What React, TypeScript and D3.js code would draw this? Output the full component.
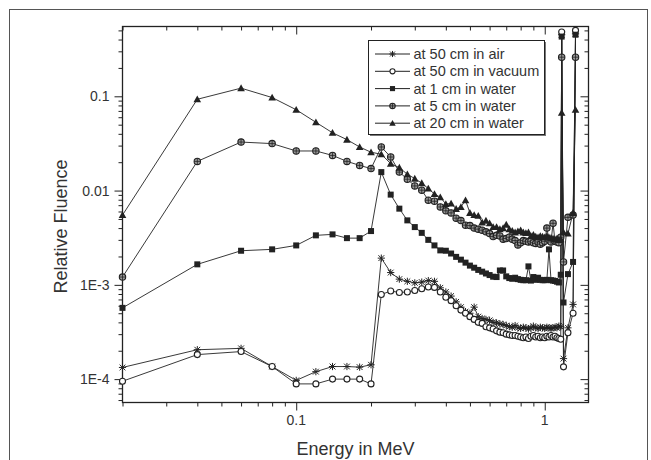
import * as d3 from 'd3';
import { useEffect, useRef } from 'react';

// photon energies (MeV) at which the fluence was scored
const energies = [
  0.02, 0.04, 0.06, 0.08, 0.10, 0.12, 0.14, 0.16, 0.18, 0.20,
  0.22, 0.24, 0.26, 0.28, 0.30, 0.32, 0.34, 0.36, 0.38, 0.40,
  0.42, 0.44, 0.46, 0.48, 0.50, 0.52, 0.54, 0.56, 0.58, 0.60,
  0.62, 0.64, 0.66, 0.68, 0.70, 0.72, 0.74, 0.76, 0.78, 0.80,
  0.82, 0.84, 0.86, 0.88, 0.90, 0.92, 0.94, 0.96, 0.98, 1.00,
  1.02, 1.04, 1.06, 1.08, 1.10, 1.12, 1.14, 1.16,
  1.17, 1.19, 1.24, 1.30, 1.33
];

const air50 = [
  1.33e-4, 2.05e-4, 2.12e-4, 1.36e-4, 0.97e-4, 1.2e-4, 1.36e-4, 1.36e-4, 1.34e-4, 1.42e-4,
  1.92e-3, 1.35e-3, 1.15e-3, 1.09e-3, 1.05e-3, 1.07e-3, 1.11e-3, 1.09e-3, 9.3e-4, 8.4e-4,
  7.6e-4, 6.6e-4, 5.8e-4, 5.2e-4, 5.0e-4, 5.8e-4, 4.6e-4, 4.4e-4, 4.3e-4, 4.2e-4,
  4.0e-4, 3.95e-4, 3.85e-4, 3.8e-4, 3.7e-4, 3.6e-4, 3.55e-4, 3.7e-4, 3.5e-4, 3.45e-4,
  3.55e-4, 3.5e-4, 3.4e-4, 3.5e-4, 3.65e-4, 3.5e-4, 3.45e-4, 3.55e-4, 3.5e-4, 3.45e-4,
  3.55e-4, 3.5e-4, 3.45e-4, 3.5e-4, 3.55e-4, 3.5e-4, 3.65e-4, 3.6e-4,
  0.45, 1.65e-4, 3.5e-4, 6.2e-4, 0.46
];

const vacuum50 = [
  0.95e-4, 1.82e-4, 1.96e-4, 1.36e-4, 0.89e-4, 0.89e-4, 1.0e-4, 1.0e-4, 1.0e-4, 0.89e-4,
  7.9e-4, 8.6e-4, 8.3e-4, 8.4e-4, 8.7e-4, 9.1e-4, 9.5e-4, 9.4e-4, 8.4e-4, 7.4e-4,
  6.8e-4, 6.0e-4, 5.4e-4, 5.0e-4, 4.6e-4, 4.3e-4, 4.0e-4, 3.9e-4, 3.6e-4, 3.5e-4,
  3.4e-4, 3.25e-4, 3.15e-4, 3.1e-4, 3.0e-4, 2.95e-4, 2.9e-4, 2.9e-4, 2.85e-4, 2.8e-4,
  2.75e-4, 2.8e-4, 2.7e-4, 2.85e-4, 2.9e-4, 2.8e-4, 2.85e-4, 2.75e-4, 2.8e-4, 2.75e-4,
  2.85e-4, 2.8e-4, 2.9e-4, 2.8e-4, 2.85e-4, 2.75e-4, 2.7e-4, 2.65e-4,
  0.48, 1.35e-4, 3.1e-4, 5.0e-4, 0.5
];

const water1 = [
  5.7e-4, 1.65e-3, 2.3e-3, 2.38e-3, 2.62e-3, 3.35e-3, 3.43e-3, 3.13e-3, 3.13e-3, 3.72e-3,
  0.0157, 9.06e-3, 6.43e-3, 4.83e-3, 4.1e-3, 3.56e-3, 3.0e-3, 2.62e-3, 2.32e-3, 2.3e-3,
  2.15e-3, 1.98e-3, 1.85e-3, 1.72e-3, 1.6e-3, 1.52e-3, 1.44e-3, 1.38e-3, 1.32e-3, 1.27e-3,
  1.22e-3, 1.21e-3, 1.42e-3, 1.42e-3, 1.23e-3, 1.18e-3, 1.16e-3, 1.19e-3, 1.15e-3, 1.13e-3,
  1.12e-3, 1.12e-3, 1.57e-3, 1.11e-3, 1.21e-3, 1.13e-3, 1.19e-3, 1.13e-3, 1.12e-3, 1.12e-3,
  1.13e-3, 2.38e-3, 1.12e-3, 1.11e-3, 1.1e-3, 1.08e-3, 1.06e-3, 1.28e-3,
  0.43, 6.5e-4, 1.3e-3, 1.75e-3, 0.45
];

const water5 = [
  1.21e-3, 0.0204, 0.0327, 0.0315, 0.0263, 0.0263, 0.0236, 0.0204, 0.0185, 0.0171,
  0.029, 0.0227, 0.0157, 0.0132, 0.0112, 0.0101, 7.9e-3, 7.7e-3, 6.7e-3, 6.1e-3,
  5.8e-3, 5.1e-3, 4.8e-3, 4.3e-3, 4.25e-3, 4.0e-3, 3.9e-3, 3.8e-3, 3.65e-3, 3.5e-3,
  3.25e-3, 3.35e-3, 3.3e-3, 3.05e-3, 3.1e-3, 3.2e-3, 3.05e-3, 2.95e-3, 2.65e-3, 2.8e-3,
  2.95e-3, 2.9e-3, 2.85e-3, 2.9e-3, 2.8e-3, 2.75e-3, 2.85e-3, 2.7e-3, 2.8e-3, 2.9e-3,
  4.0e-3, 3.0e-3, 2.85e-3, 4.5e-3, 2.9e-3, 2.85e-3, 2.8e-3, 3.2e-3,
  0.26, 1.75e-3, 5.2e-3, 5.5e-3, 0.26
];

const water20 = [
  5.5e-3, 0.093, 0.122, 0.097, 0.072, 0.053, 0.041, 0.0347, 0.029, 0.0255,
  0.0243, 0.0193, 0.0175, 0.0149, 0.0134, 0.012, 0.0105, 9.2e-3, 8.5e-3, 7.2e-3,
  7.3e-3, 6.4e-3, 6.7e-3, 7.9e-3, 5.8e-3, 5.5e-3, 5.4e-3, 4.6e-3, 4.8e-3, 4.5e-3,
  4.1e-3, 4.1e-3, 3.9e-3, 4.0e-3, 4.35e-3, 3.9e-3, 3.75e-3, 3.6e-3, 3.7e-3, 3.8e-3,
  3.6e-3, 3.55e-3, 3.6e-3, 3.3e-3, 3.4e-3, 3.25e-3, 3.2e-3, 3.3e-3, 3.25e-3, 3.2e-3,
  3.3e-3, 3.2e-3, 3.15e-3, 3.1e-3, 3.05e-3, 3.1e-3, 3.0e-3, 3.05e-3,
  0.067, 3.6e-3, 3.5e-3, 5.8e-3, 0.072
];

const seriesNames = [
  'at 50 cm in air',
  'at 50 cm in vacuum',
  'at 1 cm in water',
  'at 5 cm in water',
  'at 20 cm in water'
];
const seriesMarkers = ['star', 'circle', 'square', 'crossCircle', 'triangle'];

const xMajorTicks = [0.1, 1];
const xTickLabels = ['0.1', '1'];
const xMinorTicks = [0.02, 0.03, 0.04, 0.05, 0.06, 0.07, 0.08, 0.09, 0.2, 0.3, 0.4, 0.5, 0.6, 0.7, 0.8, 0.9];
const yMajorTicks = [1e-4, 1e-3, 0.01, 0.1];
const yTickLabels = ['1E-4', '1E-3', '0.01', '0.1'];
const yMinorTicks = [
  6e-5, 7e-5, 8e-5, 9e-5,
  2e-4, 3e-4, 4e-4, 5e-4, 6e-4, 7e-4, 8e-4, 9e-4,
  2e-3, 3e-3, 4e-3, 5e-3, 6e-3, 7e-3, 8e-3, 9e-3,
  0.02, 0.03, 0.04, 0.05, 0.06, 0.07, 0.08, 0.09,
  0.2, 0.3, 0.4, 0.5
];

export default function App() {
  const ref = useRef<SVGSVGElement>(null);

  useEffect(() => {
    const width = 651;
    const height = 460;
    const plot = { left: 122.5, right: 588.5, top: 26.5, bottom: 402.5 };
    const ink = '#222';
    const font = "'Liberation Sans', Arial, sans-serif";

    const svg = d3.select(ref.current);
    svg.selectAll('*').remove();

    // page frame
    svg.append('rect')
      .attr('x', 9.5).attr('y', 9.5)
      .attr('width', 638).attr('height', 480)
      .attr('fill', 'none').attr('stroke', '#555').attr('stroke-width', 1);

    const x = d3.scaleLog().domain([0.02, 1.5]).range([plot.left, plot.right]);
    const y = d3.scaleLog().domain([5.65e-5, 0.55]).range([plot.bottom, plot.top]);

    const tickAxis = (axis: any, pos: string, values: number[], size: number) => {
      const g = svg.append('g').attr('transform', pos).call(axis.tickValues(values).tickSize(size).tickFormat(() => ''));
      g.select('.domain').remove();
      g.selectAll('line').attr('stroke', ink).attr('stroke-width', 1);
      return g;
    };

    // outward ticks bottom/left, inward on top/right
    tickAxis(d3.axisBottom(x), `translate(0,${plot.bottom})`, xMinorTicks, 4);
    tickAxis(d3.axisBottom(x), `translate(0,${plot.bottom})`, xMajorTicks, 8);
    tickAxis(d3.axisTop(x), `translate(0,${plot.top})`, xMinorTicks, -4);
    tickAxis(d3.axisTop(x), `translate(0,${plot.top})`, xMajorTicks, -8);
    tickAxis(d3.axisLeft(y), `translate(${plot.left},0)`, yMinorTicks, 4);
    tickAxis(d3.axisLeft(y), `translate(${plot.left},0)`, yMajorTicks, 8);
    tickAxis(d3.axisRight(y), `translate(${plot.right},0)`, yMinorTicks, -4);
    tickAxis(d3.axisRight(y), `translate(${plot.right},0)`, yMajorTicks, -8);

    svg.append('rect')
      .attr('x', plot.left).attr('y', plot.top)
      .attr('width', plot.right - plot.left).attr('height', plot.bottom - plot.top)
      .attr('fill', 'none').attr('stroke', ink).attr('stroke-width', 1.3);

    // tick labels
    svg.append('g').selectAll('text').data(xMajorTicks).join('text')
      .attr('x', d => x(d)).attr('y', 425)
      .attr('text-anchor', 'middle')
      .attr('font-family', font).attr('font-size', 14).attr('fill', '#333')
      .text((d, i) => xTickLabels[i]);

    svg.append('g').selectAll('text').data(yMajorTicks).join('text')
      .attr('x', 109.5).attr('y', d => y(d) + 5)
      .attr('text-anchor', 'end')
      .attr('font-family', font).attr('font-size', 14).attr('fill', '#333')
      .text((d, i) => yTickLabels[i]);

    // axis titles
    svg.append('text')
      .attr('x', 355.5).attr('y', 455)
      .attr('text-anchor', 'middle')
      .attr('font-family', font).attr('font-size', 18).attr('fill', '#333')
      .text('Energy in MeV');

    svg.append('text')
      .attr('transform', 'translate(66.5,226.5) rotate(-90)')
      .attr('text-anchor', 'middle')
      .attr('font-family', font).attr('font-size', 18).attr('fill', '#333')
      .text('Relative Fluence');

    const drawMarker = (g: any, kind: string, cx: number, cy: number, s: number) => {
      if (kind === 'star') {
        const r = 3.6 * s;
        const d = r * 0.8;
        g.append('path')
          .attr('d', `M${cx},${cy - r}V${cy + r}M${cx - d},${cy - d}L${cx + d},${cy + d}M${cx - d},${cy + d}L${cx + d},${cy - d}M${cx - r},${cy}H${cx + r}`)
          .attr('stroke', ink).attr('stroke-width', 1).attr('fill', 'none');
      } else if (kind === 'circle') {
        g.append('circle').attr('cx', cx).attr('cy', cy).attr('r', 3 * s)
          .attr('fill', 'white').attr('stroke', ink).attr('stroke-width', 1.1);
      } else if (kind === 'square') {
        const h = 3 * s;
        g.append('rect').attr('x', cx - h).attr('y', cy - h).attr('width', 2 * h).attr('height', 2 * h)
          .attr('fill', ink);
      } else if (kind === 'crossCircle') {
        const r = 3.2 * s;
        g.append('circle').attr('cx', cx).attr('cy', cy).attr('r', r)
          .attr('fill', '#999').attr('stroke', ink).attr('stroke-width', 1.1);
        g.append('path')
          .attr('d', `M${cx - r},${cy}H${cx + r}M${cx},${cy - r}V${cy + r}`)
          .attr('stroke', ink).attr('stroke-width', 0.8);
      } else {
        const h = 3.8 * s;
        g.append('path')
          .attr('d', `M${cx},${cy - h}L${cx + h},${cy + h * 0.8}L${cx - h},${cy + h * 0.8}Z`)
          .attr('fill', ink);
      }
    };

    const seriesValues = [air50, vacuum50, water1, water5, water20];

    const line = d3.line<number>()
      .x((d, i) => x(energies[i]))
      .y(d => y(d));

    seriesValues.forEach((vals, k) => {
      const g = svg.append('g');
      g.append('path')
        .attr('d', line(vals))
        .attr('fill', 'none').attr('stroke', ink).attr('stroke-width', 0.9);
      vals.forEach((v, i) => drawMarker(g, seriesMarkers[k], x(energies[i]), y(v), 1));
    });

    // legend
    const legend = svg.append('g');
    legend.append('rect')
      .attr('x', 370).attr('y', 42).attr('width', 176).attr('height', 94)
      .attr('fill', '#777');
    legend.append('rect')
      .attr('x', 368.5).attr('y', 40.5).attr('width', 176).attr('height', 94)
      .attr('fill', 'white').attr('stroke', ink).attr('stroke-width', 1);

    seriesNames.forEach((name, k) => {
      const ly = 54 + k * 17.3;
      legend.append('line')
        .attr('x1', 375).attr('x2', 410).attr('y1', ly).attr('y2', ly)
        .attr('stroke', ink).attr('stroke-width', 1);
      drawMarker(legend, seriesMarkers[k], 392.5, ly, 0.85);
      legend.append('text')
        .attr('x', 413.5).attr('y', ly + 5)
        .attr('font-family', font).attr('font-size', 14.5).attr('fill', '#333')
        .text(name);
    });
  }, []);

  return (
    <svg ref={ref} width={651} height={460} style={{ position: 'absolute', left: 0, top: 0, background: 'white' }} />
  );
}
